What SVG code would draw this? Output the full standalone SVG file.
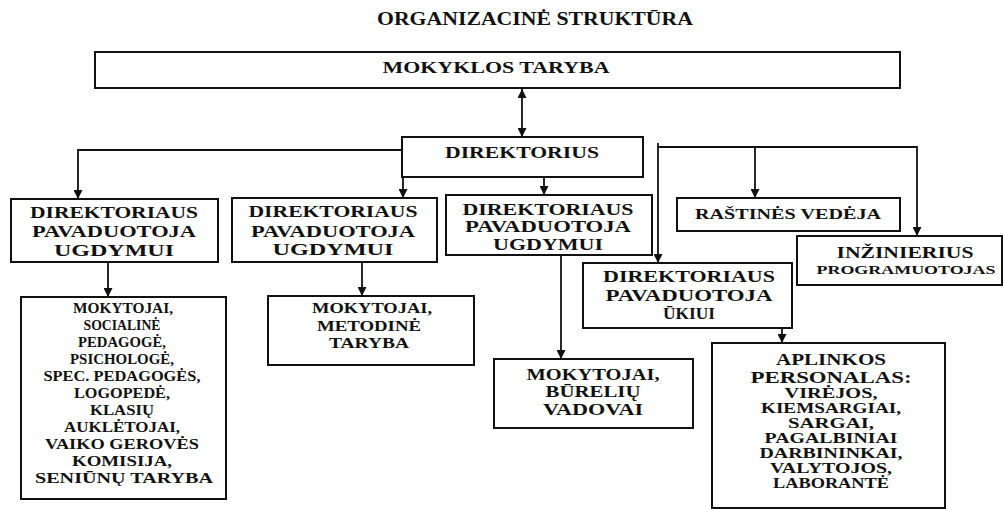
<svg xmlns="http://www.w3.org/2000/svg" width="1003" height="509" viewBox="0 0 1003 509">
<style>
.box{fill:#fff;stroke:#111;stroke-width:2}
.t{font-family:"Liberation Serif","Times New Roman",serif;font-weight:bold;fill:#111;text-anchor:middle}
.c{fill:none;stroke:#111;stroke-width:1.8}
</style>
<defs>
<marker id="ah" markerUnits="userSpaceOnUse" markerWidth="9" markerHeight="9" refX="9" refY="4.5" orient="auto-start-reverse">
<path d="M0,0 L9,4.5 L0,9 z" fill="#111"/>
</marker>
</defs>
<text class="t" x="535" y="25" font-size="18" textLength="316" lengthAdjust="spacingAndGlyphs">ORGANIZACINĖ STRUKTŪRA</text>
<g id="connectors">
<path class="c" d="M522,89 L522,137" marker-start="url(#ah)" marker-end="url(#ah)"/>
<path class="c" d="M402,150 L78,150 L78,199" marker-end="url(#ah)"/>
<path class="c" d="M403,177 L403,198" marker-end="url(#ah)"/>
<path class="c" d="M544,177 L544,195" marker-end="url(#ah)"/>
<path class="c" d="M658,143 L658,263" marker-end="url(#ah)"/>
<path class="c" d="M658,147 L917,147 L917,236" marker-end="url(#ah)"/>
<path class="c" d="M755,147 L755,198" marker-end="url(#ah)"/>
<path class="c" d="M108,262 L108,297" marker-end="url(#ah)"/>
<path class="c" d="M362,262 L362,296" marker-end="url(#ah)"/>
<path class="c" d="M561,255 L561,359" marker-end="url(#ah)"/>
<path class="c" d="M782,328 L782,343" marker-end="url(#ah)"/>
</g>
<g id="mokyklos-taryba">
<rect class="box" x="95" y="52" width="805" height="36"/>
<text class="t" x="496" y="73" font-size="16" textLength="227" lengthAdjust="spacingAndGlyphs">MOKYKLOS TARYBA</text>
</g>
<g id="direktorius">
<rect class="box" x="402" y="137" width="241" height="40"/>
<text class="t" x="522" y="158" font-size="17" textLength="154" lengthAdjust="spacingAndGlyphs">DIREKTORIUS</text>
</g>
<g id="pav-ugdymui-1">
<rect class="box" x="11" y="199" width="207" height="63"/>
<text class="t" x="114" y="218" font-size="16" textLength="168" lengthAdjust="spacingAndGlyphs">DIREKTORIAUS</text>
<text class="t" x="114" y="237" font-size="16" textLength="164" lengthAdjust="spacingAndGlyphs">PAVADUOTOJA</text>
<text class="t" x="114" y="256" font-size="16" textLength="120" lengthAdjust="spacingAndGlyphs">UGDYMUI</text>
</g>
<g id="pav-ugdymui-2">
<rect class="box" x="232" y="198" width="205" height="64"/>
<text class="t" x="333" y="217" font-size="16" textLength="169" lengthAdjust="spacingAndGlyphs">DIREKTORIAUS</text>
<text class="t" x="333" y="237" font-size="16" textLength="164" lengthAdjust="spacingAndGlyphs">PAVADUOTOJA</text>
<text class="t" x="333" y="255" font-size="16" textLength="121" lengthAdjust="spacingAndGlyphs">UGDYMUI</text>
</g>
<g id="pav-ugdymui-3">
<rect class="box" x="446" y="195" width="206" height="60"/>
<text class="t" x="548" y="215" font-size="16" textLength="171" lengthAdjust="spacingAndGlyphs">DIREKTORIAUS</text>
<text class="t" x="548" y="232" font-size="16" textLength="166" lengthAdjust="spacingAndGlyphs">PAVADUOTOJA</text>
<text class="t" x="548" y="250" font-size="16" textLength="110" lengthAdjust="spacingAndGlyphs">UGDYMUI</text>
</g>
<g id="rastines-vedeja">
<rect class="box" x="677" y="198" width="223" height="33"/>
<text class="t" x="788" y="219" font-size="15" textLength="186" lengthAdjust="spacingAndGlyphs">RAŠTINĖS VEDĖJA</text>
</g>
<g id="inzinierius">
<rect class="box" x="797" y="236" width="205" height="49"/>
<text class="t" x="905" y="258" font-size="16" textLength="137" lengthAdjust="spacingAndGlyphs">INŽINIERIUS</text>
<text class="t" x="906" y="274" font-size="13" textLength="179" lengthAdjust="spacingAndGlyphs">PROGRAMUOTOJAS</text>
</g>
<g id="pav-ukiui">
<rect class="box" x="583" y="263" width="209" height="65"/>
<text class="t" x="689" y="282" font-size="16" textLength="172" lengthAdjust="spacingAndGlyphs">DIREKTORIAUS</text>
<text class="t" x="689" y="301" font-size="16" textLength="167" lengthAdjust="spacingAndGlyphs">PAVADUOTOJA</text>
<text class="t" x="689" y="319" font-size="16" textLength="52" lengthAdjust="spacingAndGlyphs">ŪKIUI</text>
</g>
<g id="mokytojai-1">
<rect class="box" x="21" y="297" width="205" height="202"/>
<text class="t" x="123" y="313" font-size="15" textLength="100" lengthAdjust="spacingAndGlyphs">MOKYTOJAI,</text>
<text class="t" x="122" y="330" font-size="15" textLength="77" lengthAdjust="spacingAndGlyphs">SOCIALINĖ</text>
<text class="t" x="122" y="347" font-size="15" textLength="88" lengthAdjust="spacingAndGlyphs">PEDAGOGĖ,</text>
<text class="t" x="122" y="364" font-size="15" textLength="104" lengthAdjust="spacingAndGlyphs">PSICHOLOGĖ,</text>
<text class="t" x="122" y="381" font-size="15" textLength="157" lengthAdjust="spacingAndGlyphs">SPEC. PEDAGOGĖS,</text>
<text class="t" x="122" y="398" font-size="15" textLength="96" lengthAdjust="spacingAndGlyphs">LOGOPEDĖ,</text>
<text class="t" x="122" y="415" font-size="15" textLength="64" lengthAdjust="spacingAndGlyphs">KLASIŲ</text>
<text class="t" x="122" y="432" font-size="15" textLength="116" lengthAdjust="spacingAndGlyphs">AUKLĖTOJAI,</text>
<text class="t" x="122" y="449" font-size="15" textLength="154" lengthAdjust="spacingAndGlyphs">VAIKO GEROVĖS</text>
<text class="t" x="122" y="466" font-size="15" textLength="100" lengthAdjust="spacingAndGlyphs">KOMISIJA,</text>
<text class="t" x="124" y="483" font-size="15" textLength="178" lengthAdjust="spacingAndGlyphs">SENIŪNŲ TARYBA</text>
</g>
<g id="mokytojai-2">
<rect class="box" x="268" y="296" width="206" height="69"/>
<text class="t" x="372" y="313" font-size="15" textLength="120" lengthAdjust="spacingAndGlyphs">MOKYTOJAI,</text>
<text class="t" x="369" y="331" font-size="15" textLength="104" lengthAdjust="spacingAndGlyphs">METODINĖ</text>
<text class="t" x="369" y="348" font-size="15" textLength="80" lengthAdjust="spacingAndGlyphs">TARYBA</text>
</g>
<g id="mokytojai-3">
<rect class="box" x="494" y="359" width="199" height="69"/>
<text class="t" x="593" y="380" font-size="17" textLength="133" lengthAdjust="spacingAndGlyphs">MOKYTOJAI,</text>
<text class="t" x="593" y="397" font-size="17" textLength="95" lengthAdjust="spacingAndGlyphs">BŪRELIŲ</text>
<text class="t" x="593" y="415" font-size="17" textLength="100" lengthAdjust="spacingAndGlyphs">VADOVAI</text>
</g>
<g id="aplinkos-personalas">
<rect class="box" x="712" y="343" width="233" height="165"/>
<text class="t" x="831" y="365" font-size="16" textLength="110" lengthAdjust="spacingAndGlyphs">APLINKOS</text>
<text class="t" x="831" y="383" font-size="16" textLength="161" lengthAdjust="spacingAndGlyphs">PERSONALAS:</text>
<text class="t" x="831" y="398" font-size="14" textLength="93" lengthAdjust="spacingAndGlyphs">VIRĖJOS,</text>
<text class="t" x="831" y="413" font-size="14" textLength="140" lengthAdjust="spacingAndGlyphs">KIEMSARGIAI,</text>
<text class="t" x="831" y="428" font-size="14" textLength="86" lengthAdjust="spacingAndGlyphs">SARGAI,</text>
<text class="t" x="831" y="443" font-size="14" textLength="133" lengthAdjust="spacingAndGlyphs">PAGALBINIAI</text>
<text class="t" x="831" y="458" font-size="14" textLength="143" lengthAdjust="spacingAndGlyphs">DARBININKAI,</text>
<text class="t" x="831" y="473" font-size="14" textLength="122" lengthAdjust="spacingAndGlyphs">VALYTOJOS,</text>
<text class="t" x="831" y="488" font-size="14" textLength="116" lengthAdjust="spacingAndGlyphs">LABORANTĖ</text>
</g>
</svg>
